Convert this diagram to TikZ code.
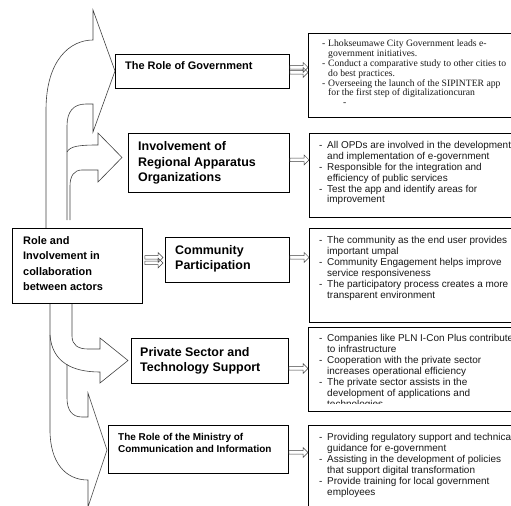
\documentclass[tikz,border=0pt]{standalone}
\usepackage{fontspec}
\setmainfont{Liberation Sans}
\newfontfamily\tnr{Liberation Serif}
\usetikzlibrary{calc}
\begin{document}
\begin{tikzpicture}[x=1bp,y=-1bp,
  arr/.style={draw=black!75, line width=0.6bp, line join=miter},
  lbox/.style={draw=black, line width=0.8bp, fill=white, inner sep=0, anchor=north west},
  rbox/.style={draw=black, line width=0.7bp, fill=white, inner sep=0, anchor=north west},
  ltext/.style={inner sep=0, anchor=north west},
  rtext/.style={inner sep=0, anchor=north west, text=black!90, font=\fontsize{10}{11}\selectfont},
  hollow/.style={draw=black!75, line width=0.5bp,
    to path={let \p1=(\tikztostart), \p2=(\tikztotarget) in
      (\x1,\y1+1.8bp) -- (\x2-5bp,\y1+1.8bp) -- (\x2-5bp,\y1+5bp) -- (\x2,\y1)
      -- (\x2-5bp,\y1-5bp) -- (\x2-5bp,\y1-1.8bp) -- (\x1,\y1-1.8bp) -- cycle}}
]
\useasboundingbox (0,0) rectangle (511,506);
\clip (0,0) rectangle (511,506);

% big block arrows
\draw[arr] (46,228) -- (46,110) .. controls (46,60) and (70,40) .. (93,40) -- (93,10) -- (115,71) -- (93,132) -- (93,104) -- (86,104) .. controls (73,104) and (67,112) .. (67,126) -- (67,220);
\draw[arr] (67,152) .. controls (70,146) and (80,145) .. (98,145) -- (98,133) -- (122,157.5) -- (98,182) -- (98,170) -- (82,170) .. controls (74,170) and (70,176) .. (70,186) -- (70,220);
\draw[arr] (72,303) -- (72,336) .. controls (72,345) and (78,349) .. (88,349) -- (100,349) -- (100,338) -- (128,360.5) -- (100,383) -- (100,372) .. controls (72,372) and (52,362) .. (50,335);
\draw[arr] (50,303) -- (50,430) .. controls (50,462) and (65,480) .. (88,480) -- (88,507) -- (107,450) -- (88,393) -- (88,417) -- (82,417) .. controls (72,417) and (67,410) .. (67,398) -- (67,364);

% left boxes
\node[lbox, minimum width=130bp, minimum height=75bp] (main) at (12,228) {};
\node[lbox, minimum width=174bp, minimum height=34bp] (gov) at (115,54) {};
\node[lbox, minimum width=161bp, minimum height=59bp] (inv) at (128,133) {};
\node[lbox, minimum width=124bp, minimum height=45bp] (com) at (165,237) {};
\node[lbox, minimum width=157bp, minimum height=45bp] (pri) at (131,338) {};
\node[lbox, minimum width=180bp, minimum height=48bp] (min) at (108,425) {};

% right boxes
\node[rbox, minimum width=210bp, minimum height=84bp] (r1) at (308,33) {};
\node[rbox, minimum width=210bp, minimum height=84bp] (r2) at (309,133) {};
\node[rbox, minimum width=210bp, minimum height=94bp] (r3) at (309,228) {};
\node[rbox, minimum width=210bp, minimum height=84bp] (r4) at (308,327) {};
\node[rbox, minimum width=210bp, minimum height=90bp] (r5) at (308,425) {};

% left texts
\node[inner sep=0, anchor=base west, font=\fontsize{11}{13}\selectfont\bfseries] (govt) at (125,70) {The Role of Government};
\node[ltext, font=\fontsize{12.5}{15.5}\selectfont\bfseries] (invt) at (138,139.7) {\begin{tabular}{@{}l@{}}Involvement of\\Regional Apparatus\\Organizations\end{tabular}};
\node[ltext, font=\fontsize{12.5}{15}\selectfont\bfseries] (comt) at (175,244) {\begin{tabular}{@{}l@{}}Community\\Participation\end{tabular}};
\node[ltext, font=\fontsize{12.5}{15}\selectfont\bfseries] (prit) at (140,346) {\begin{tabular}{@{}l@{}}Private Sector and\\Technology Support\end{tabular}};
\node[ltext, font=\fontsize{10}{12}\selectfont\bfseries] (mint) at (118,432.1) {\begin{tabular}{@{}l@{}}The Role of the Ministry of\\Communication and Information\end{tabular}};
\node[ltext, font=\fontsize{11}{15.5}\selectfont\bfseries] (maint) at (23,233.2) {\begin{tabular}{@{}l@{}}Role and\\Involvement in\\collaboration\\between actors\end{tabular}};

% right texts
\node[ltext, text=black!90, font=\fontsize{9.7}{10}\selectfont\tnr] (r1t) at (322,39) {\begin{tabular}{@{}l@{\hspace{2.8bp}}l@{}}
-&Lhokseumawe City Government leads e-\\
&government initiatives.\\
-&Conduct a comparative study to other cities to\\
&do best practices.\\
-&Overseeing the launch of the SIPINTER app\\
&for the first step of digitalizationcuran\\
&\hspace{15bp}-\end{tabular}};
\node[rtext] (r2t) at (319,140.3) {\begin{tabular}{@{}l@{\hspace{4.7bp}}l@{}}
-&All OPDs are involved in the development\\
&and implementation of e-government\\
-&Responsible for the integration and\\
&efficiency of public services\\
-&Test the app and identify areas for\\
&improvement\end{tabular}};
\node[rtext] (r3t) at (319,235.8) {\begin{tabular}{@{}l@{\hspace{4.7bp}}l@{}}
-&The community as the end user provides\\
&important umpal\\
-&Community Engagement helps improve\\
&service responsiveness\\
-&The participatory process creates a more\\
&transparent environment\end{tabular}};
\begin{scope}
\clip (300,327) rectangle (511,403);
\node[rtext] (r4t) at (319,333.8) {\begin{tabular}{@{}l@{\hspace{4.7bp}}l@{}}
-&Companies like PLN I-Con Plus contribute\\
&to infrastructure\\
-&Cooperation with the private sector\\
&increases operational efficiency\\
-&The private sector assists in the\\
&development of applications and\\
&technologies\end{tabular}};
\end{scope}
\node[rtext] (r5t) at (319,432.8) {\begin{tabular}{@{}l@{\hspace{4.7bp}}l@{}}
-&Providing regulatory support and technical\\
&guidance for e-government\\
-&Assisting in the development of policies\\
&that support digital transformation\\
-&Provide training for local government\\
&employees\end{tabular}};

% small hollow connectors
\draw[hollow] ([yshift=4bp]gov.east) to ([yshift=4bp]r1.west);
\draw[hollow] ([yshift=-1bp]gov.east) to ([yshift=-1bp]r1.west);
\draw[hollow] ([xshift=2bp,yshift=8.5bp]main.east) to ([xshift=-2bp]com.west);
\draw[hollow] ([xshift=2bp,yshift=3bp]main.east) to ([xshift=-2bp]com.west);
\draw[hollow] ([yshift=3bp]inv.east) to (r2.west);
\draw[hollow] ([yshift=2.5bp]com.east) to (r3.west);
\draw[hollow] ([yshift=-7.5bp]pri.east) to (r4.west);
\draw[hollow] ([yshift=-3bp]min.east) to (r5.west);
\end{tikzpicture}
\end{document}
